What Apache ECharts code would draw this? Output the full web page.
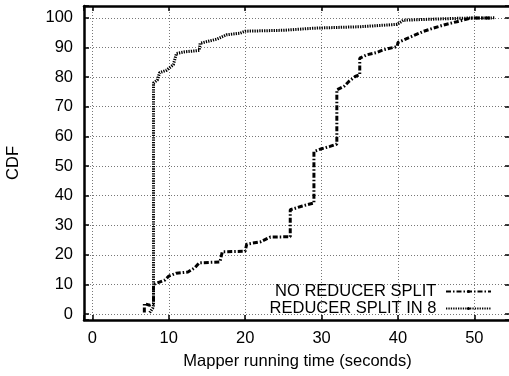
<!DOCTYPE html>
<html>
<head>
<meta charset="utf-8">
<script src="https://cdn.jsdelivr.net/npm/echarts@6/dist/echarts.min.js"></script>
<style>
html,body{margin:0;padding:0;background:#fff;}
#chart{width:509px;height:376px;}
</style>
</head>
<body>
<div id="chart"></div>
<script>
var seriesNames = ['NO REDUCER SPLIT', 'REDUCER SPLIT IN 8'];
var xTickLabels = ['0', '10', '20', '30', '40', '50'];
var yTickLabels = ['0', '10', '20', '30', '40', '50', '60', '70', '80', '90', '100'];

var noSplitX = [6.8, 6.8, 7.5, 8, 8, 8.5, 9.5, 10, 11, 12.5, 13.4, 14, 16.7, 17, 20, 20.2, 22, 23.3, 25.9, 25.9, 27.5, 29, 29, 30, 31.1, 32, 32, 33, 33.6, 34.4, 35, 35, 35.9, 37.2, 38.1, 39.9, 40, 41.6, 43.3, 44.6, 46, 47.7, 49.5, 52.3];
var noSplitY = [0.5, 3.5, 3, 3.5, 10, 10.5, 11.5, 12.8, 13.8, 14.2, 15.6, 17.3, 17.6, 21, 21.2, 23.6, 24.4, 26, 26.1, 35.2, 36.5, 37.5, 54.9, 55.8, 56.6, 57.4, 75.7, 77, 78.6, 80.2, 80.8, 86.4, 87.5, 88.3, 89.2, 90.3, 91.7, 93.5, 95.4, 96.5, 97.6, 98.7, 99.9, 100];

var splitX = [7.5, 7.9, 8, 8, 8.5, 8.8, 9.7, 10.6, 10.8, 11, 12, 14, 14.1, 15, 16.3, 17.6, 19.3, 20, 25, 28.9, 35, 39.9, 40.7, 45, 48.6, 52.7];
var splitY = [0.5, 2, 3, 78, 79, 81.5, 82.3, 84.2, 84.7, 88, 88.5, 89, 91.4, 92, 92.8, 94.3, 94.8, 95.5, 95.8, 96.5, 97, 97.8, 99.2, 99.6, 99.9, 100];

function pairs(xs, ys) {
  var out = [];
  for (var i = 0; i < xs.length; i++) out.push([xs[i], ys[i]]);
  return out;
}
function fmtX(v) { var s = String(Math.round(v)); return (Math.abs(v - Math.round(v)) < 1e-6 && xTickLabels.indexOf(s) >= 0) ? s : ''; }
function fmtY(v) { var s = String(Math.round(v)); return (Math.abs(v - Math.round(v)) < 1e-6 && yTickLabels.indexOf(s) >= 0) ? s : ''; }

var FONT = 'Liberation Sans, Arial, Helvetica, sans-serif';
var gridLine = { show: true, lineStyle: { color: '#777', width: 1, type: [1, 2] } };

var chart = echarts.init(document.getElementById('chart'), null, { renderer: 'canvas' });
chart.setOption({
  animation: false,
  backgroundColor: '#fff',
  grid: { left: 84, right: -2, top: 6, bottom: 56, containLabel: false, outerBoundsMode: 'none' },
  legend: {
    orient: 'vertical',
    right: 17,
    bottom: 59,
    padding: 0,
    itemGap: 0,
    align: 'right',
    itemWidth: 45,
    itemHeight: 4,
    formatter: function (n) { return n + ' '; },
    textStyle: { fontFamily: FONT, fontSize: 16.5, color: '#000', lineHeight: 15.7 },
    data: seriesNames
  },
  xAxis: [{
    type: 'value', min: -1.1, max: 54.8, minInterval: 10, maxInterval: 10,
    position: 'bottom',
    name: 'Mapper running time (seconds)', nameLocation: 'middle', nameGap: 33,
    nameTextStyle: { fontFamily: FONT, fontSize: 16.5, color: '#000' },
    axisLine: { show: true, onZero: false, lineStyle: { color: '#000', width: 2.5 } },
    axisTick: { show: true, inside: true, length: 5, lineStyle: { color: '#000', width: 1.5 } },
    axisLabel: { fontFamily: FONT, fontSize: 16.5, color: '#000', margin: 10, formatter: fmtX, showMinLabel: true, showMaxLabel: true },
    splitLine: gridLine
  }, {
    type: 'value', min: -1.1, max: 54.8, minInterval: 10, maxInterval: 10,
    position: 'top',
    axisLine: { show: true, onZero: false, lineStyle: { color: '#000', width: 2.5 } },
    axisTick: { show: true, inside: true, length: 5, lineStyle: { color: '#000', width: 1.5 } },
    axisLabel: { show: false },
    splitLine: { show: false }
  }],
  yAxis: [{
    type: 'value', min: -2, max: 104, minInterval: 10, maxInterval: 10,
    position: 'left',
    name: 'CDF', nameLocation: 'middle', nameGap: 62,
    nameTextStyle: { fontFamily: FONT, fontSize: 16.5, color: '#000' },
    axisLine: { show: true, onZero: false, lineStyle: { color: '#000', width: 2.5 } },
    axisTick: { show: true, inside: true, length: 5, lineStyle: { color: '#000', width: 1.5 } },
    axisLabel: { fontFamily: FONT, fontSize: 16.5, color: '#000', margin: 11, formatter: fmtY, showMinLabel: true, showMaxLabel: true },
    splitLine: gridLine
  }, {
    type: 'value', min: -2, max: 104, minInterval: 10, maxInterval: 10,
    position: 'right',
    axisLine: { show: true, onZero: false, lineStyle: { color: '#000', width: 2.5 } },
    axisTick: { show: true, inside: true, length: 6, lineStyle: { color: '#000', width: 1.5 } },
    axisLabel: { show: false },
    splitLine: { show: false }
  }],
  series: [{
    name: seriesNames[0], type: 'line', xAxisIndex: 0, yAxisIndex: 0,
    showSymbol: false, symbol: 'none',
    data: pairs(noSplitX, noSplitY),
    lineStyle: { color: '#000', width: 3, type: [5, 2, 1.5, 2], cap: 'butt' },
    itemStyle: { color: '#000' }
  }, {
    name: seriesNames[1], type: 'line', xAxisIndex: 0, yAxisIndex: 0,
    showSymbol: false, symbol: 'none',
    data: pairs(splitX, splitY),
    lineStyle: { color: '#000', width: 3, type: [1.3, 1.1], cap: 'butt' },
    itemStyle: { color: '#000' }
  }]
});
</script>
</body>
</html>
